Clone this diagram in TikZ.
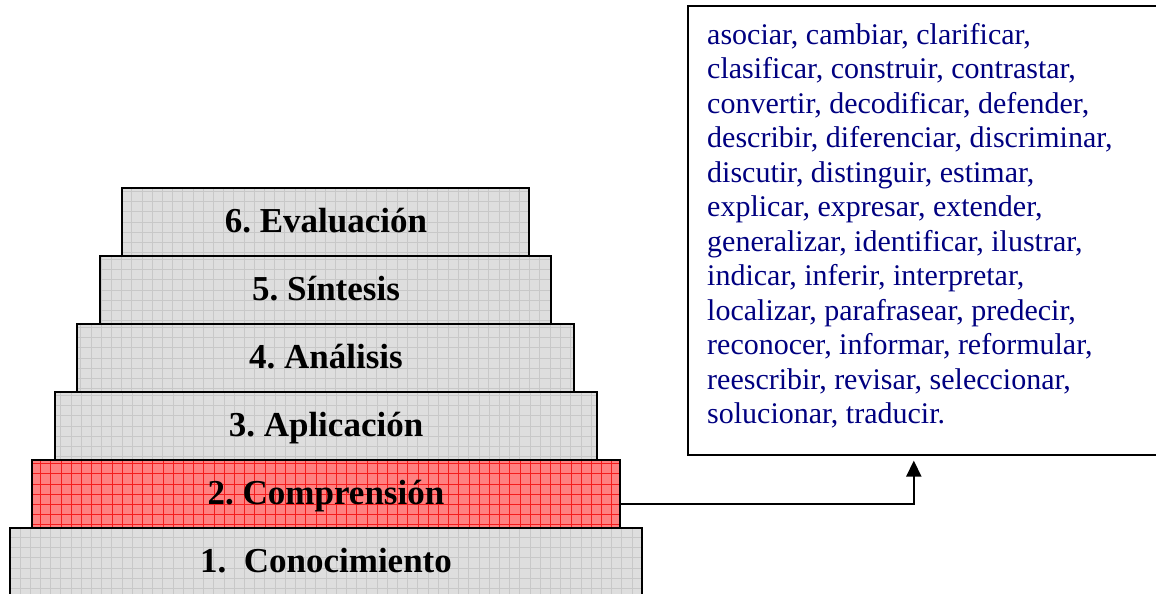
\documentclass[tikz,border=0pt]{standalone}
\usepackage{fontspec}
\setmainfont{Liberation Serif}
\frenchspacing
\usetikzlibrary{arrows.meta,calc}
\definecolor{boxgray}{HTML}{DEDEDE}
\definecolor{gridgray}{HTML}{C8C8C8}
\definecolor{boxred}{HTML}{FF8080}
\definecolor{gridred}{HTML}{F41C1C}
\definecolor{verbblue}{HTML}{000080}
\tikzset{
  level/.style={draw=black, line width=2pt, fill=boxgray, minimum height=68pt, inner sep=0pt,
    path picture={\draw[gridgray, line width=0.7pt, step=10.2pt] (path picture bounding box.south west) grid (path picture bounding box.north east);}},
  levelred/.style={level, fill=boxred,
    path picture={\draw[gridred, line width=0.6pt, step=10.2pt] (path picture bounding box.south west) grid (path picture bounding box.north east);}},
  lab/.style={anchor=base, font=\fontsize{35}{40}\selectfont\bfseries, inner sep=0pt},
  link/.style={line width=2pt, shorten >=5pt, -{Triangle[width=15pt,length=16pt]}}
}
\begin{document}
\begin{tikzpicture}[x=1pt,y=-1pt]
\useasboundingbox (0,0) rectangle (1156,594);
% levels (top y, height 68)
\node[level, minimum width=407pt] (b6) at (325.5,222) {};
\node[level, minimum width=451pt] (b5) at (325.5,290) {};
\node[level, minimum width=497pt] (b4) at (325.5,358) {};
\node[level, minimum width=542pt] (b3) at (326,426) {};
\node[levelred, minimum width=588pt] (b2) at (326,494) {};
\node[level, minimum width=632pt, minimum height=80pt] (b1) at (326,568) {};
% labels
\node[lab] (l6) at (326,232) {6. Evaluación};
\node[lab] (l5) at (326,300) {5. Síntesis};
\node[lab] (l4) at (326,368) {4. Análisis};
\node[lab] (l3) at (326,436) {3. Aplicación};
\node[lab] (l2) at (326,504) {2. Comprensión};
\node[lab] (l1) at (326,572) {1.\ \ Conocimiento};
% verb box
\node[draw=black, line width=1.6pt, minimum width=473pt, minimum height=449pt, anchor=north west, inner sep=0pt] (tb) at (687,5) {};
\node[anchor=north west, inner sep=0pt, align=left, text=verbblue, font=\fontsize{30}{34.5}\selectfont] (verbs) at (707,22) {\rule{0pt}{22pt}asociar, cambiar, clarificar,\\
clasificar, construir, contrastar,\\
convertir, decodificar, defender,\\
describir, diferenciar, discriminar,\\
discutir, distinguir, estimar,\\
explicar, expresar, extender,\\
generalizar, identificar, ilustrar,\\
indicar, inferir, interpretar,\\
localizar, parafrasear, predecir,\\
reconocer, informar, reformular,\\
reescribir, revisar, seleccionar,\\
solucionar, traducir.};
% connector
\draw[link] ([yshift=-10pt]b2.east) -| ([xshift=-10.5pt]tb.south);
\end{tikzpicture}
\end{document}
